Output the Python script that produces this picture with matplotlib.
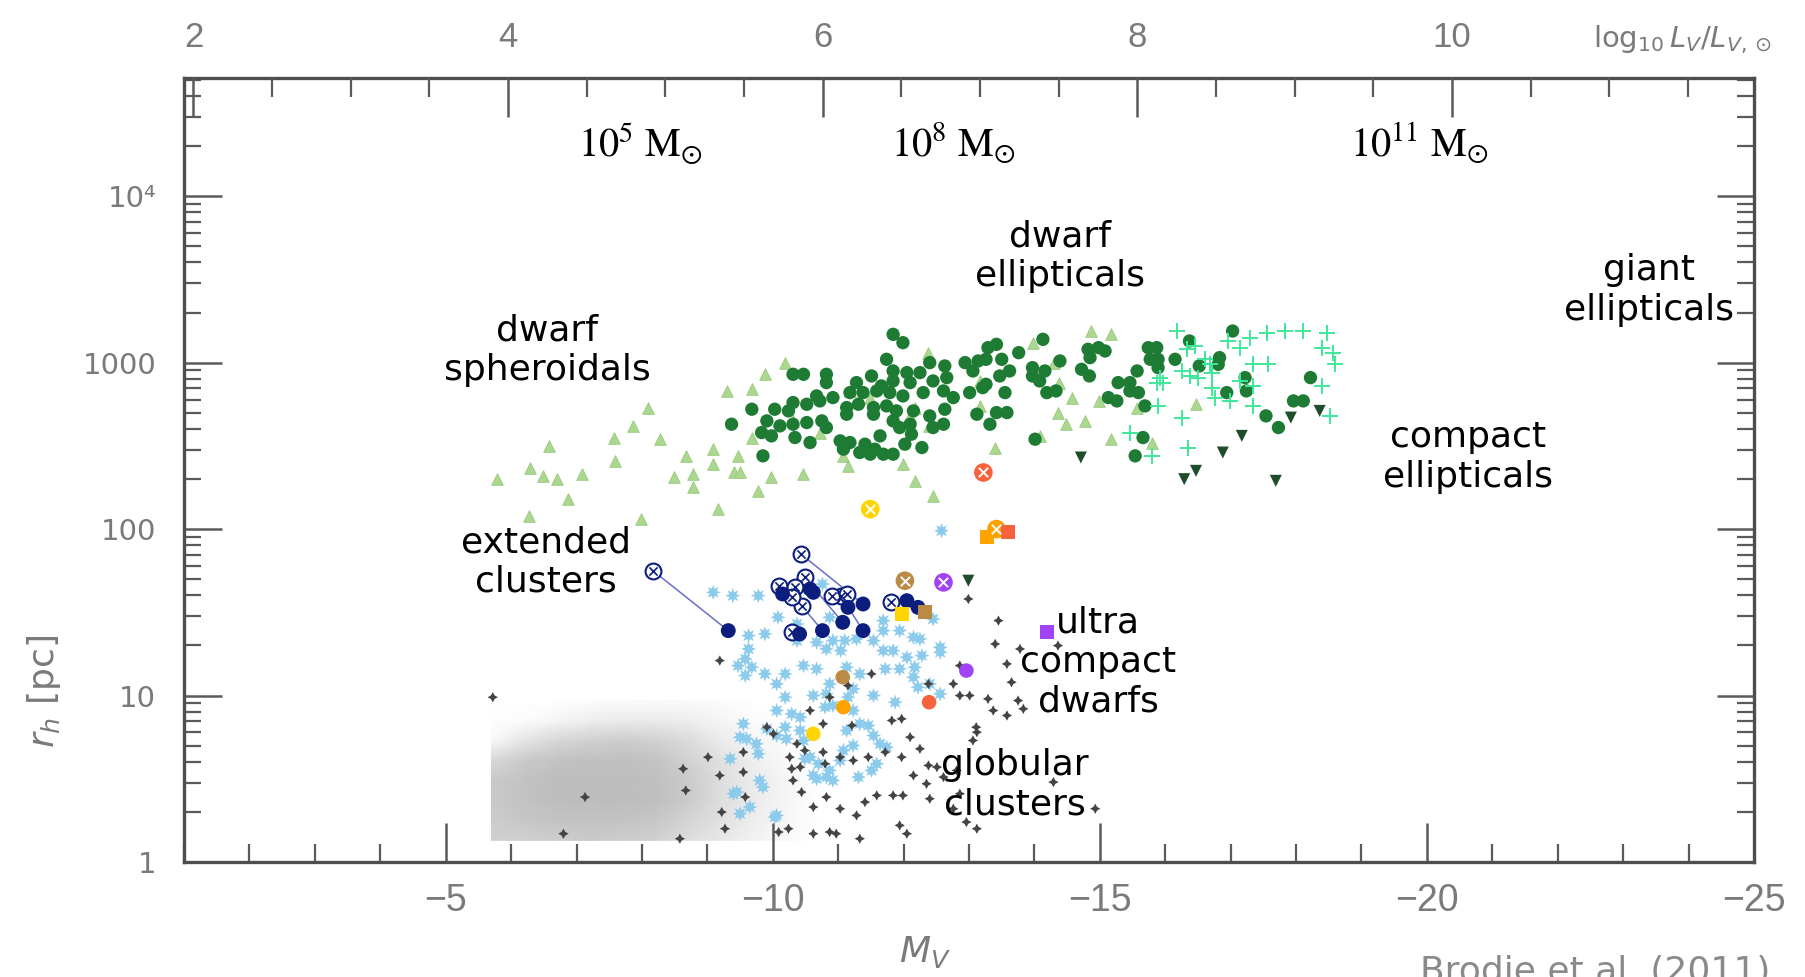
import numpy as np
import matplotlib
matplotlib.use("Agg")
import matplotlib.pyplot as plt
from matplotlib.ticker import MultipleLocator, LogLocator, NullFormatter
from matplotlib.colors import LinearSegmentedColormap

# ------------------------------------------------------------------ data
# gray cloud of (Local Group) globular clusters: density
cloud_mv = [-5.7, -6.2, -6.7, -7.2, -7.7, -8.2, -8.7, -9.2, -9.7, -10.2, -10.7]
cloud_logr = [0.13, 0.25, 0.37, 0.49, 0.61, 0.73, 0.85, 0.97]
cloud_density = [
    [0.70, 0.70, 0.75, 0.80, 0.75, 0.70, 0.50, 0.35, 0.20, 0.10, 0.00],
    [0.75, 0.85, 0.90, 0.90, 0.90, 0.85, 0.65, 0.45, 0.25, 0.12, 0.00],
    [0.80, 0.90, 1.00, 1.00, 1.00, 0.95, 0.80, 0.50, 0.30, 0.15, 0.00],
    [0.80, 0.90, 1.00, 1.00, 1.00, 0.95, 0.80, 0.50, 0.30, 0.15, 0.00],
    [0.60, 0.80, 0.90, 0.95, 0.95, 0.90, 0.70, 0.45, 0.25, 0.10, 0.00],
    [0.10, 0.40, 0.60, 0.70, 0.75, 0.70, 0.55, 0.30, 0.15, 0.05, 0.00],
    [0.00, 0.05, 0.15, 0.25, 0.30, 0.30, 0.25, 0.15, 0.05, 0.00, 0.00],
    [0.00, 0.00, 0.00, 0.03, 0.08, 0.08, 0.08, 0.05, 0.00, 0.00, 0.00],
]

# (M_V, log10 r_h [pc])
dsph = [(-10.19, 3.00), (-9.88, 2.93), (-9.30, 2.83), (-9.68, 2.84), (-8.10, 2.73), (-7.87, 2.62),
        (-7.57, 2.55), (-8.28, 2.54), (-6.58, 2.50), (-7.59, 2.41), (-6.29, 2.37), (-6.49, 2.32),
        (-6.70, 2.30), (-7.09, 2.33), (-5.79, 2.30), (-6.87, 2.18), (-6.28, 2.08), (-7.98, 2.06),
        (-8.49, 2.31), (-8.78, 2.33), (-8.78, 2.25), (-8.68, 2.44), (-9.08, 2.48), (-9.09, 2.39),
        (-9.47, 2.44), (-9.40, 2.34), (-9.50, 2.34), (-9.78, 2.23), (-9.98, 2.31), (-10.47, 2.33),
        (-9.17, 2.12), (-9.68, 2.55), (-11.15, 2.38), (-11.08, 2.44), (-11.99, 2.39), (-12.17, 2.29),
        (-12.45, 2.20), (-12.38, 3.06), (-14.87, 3.19), (-15.17, 3.17), (-13.98, 3.12), (-14.30, 3.00),
        (-14.38, 2.88), (-13.17, 2.89), (-14.57, 2.79), (-14.98, 2.77), (-14.36, 2.70), (-14.77, 2.65),
        (-14.48, 2.63), (-13.17, 2.74), (-12.17, 2.73), (-12.39, 2.62), (-12.10, 2.68), (-14.08, 2.56),
        (-13.39, 2.49), (-15.17, 2.54), (-15.79, 2.52), (-15.57, 2.73), (-16.47, 2.75), (-11.49, 2.79),
        (-10.72, 2.58), (-10.31, 2.65), (-11.18, 2.83)]

dwarf_ell = [(-11.84, 3.17), (-11.99, 3.12), (-11.74, 3.02), (-12.40, 3.00), (-10.31, 2.93), (-10.47, 2.93),
             (-10.82, 2.93), (-10.82, 2.88), (-11.51, 2.92), (-11.84, 2.95), (-12.05, 2.94), (-12.25, 2.94),
             (-11.28, 2.88), (-11.66, 2.86), (-11.84, 2.89), (-12.10, 2.88), (-12.45, 2.89), (-10.67, 2.80),
             (-10.92, 2.79), (-11.18, 2.82), (-11.38, 2.82), (-11.59, 2.83), (-11.79, 2.82), (-11.99, 2.80),
             (-12.30, 2.82), (-10.31, 2.76), (-10.52, 2.75), (-10.72, 2.77), (-9.68, 2.72), (-10.03, 2.72),
             (-10.24, 2.71), (-11.13, 2.73), (-11.31, 2.75), (-11.54, 2.73), (-11.74, 2.74), (-11.89, 2.71),
             (-12.15, 2.71), (-12.40, 2.68), (-9.37, 2.63), (-9.91, 2.65), (-10.11, 2.62), (-10.31, 2.63),
             (-10.52, 2.64), (-10.75, 2.65), (-11.13, 2.69), (-11.54, 2.69), (-11.84, 2.65), (-12.10, 2.63),
             (-12.45, 2.61), (-9.83, 2.58), (-9.98, 2.56), (-10.34, 2.55), (-10.57, 2.52), (-10.82, 2.61),
             (-11.03, 2.53), (-11.18, 2.52), (-11.41, 2.51), (-11.64, 2.56), (-11.94, 2.61), (-12.12, 2.57),
             (-12.28, 2.49), (-12.02, 2.51), (-11.84, 2.45), (-11.69, 2.45), (-11.49, 2.45), (-9.85, 2.44),
             (-11.08, 2.48), (-11.33, 2.46), (-11.56, 2.48),
             (-14.13, 3.14), (-13.29, 3.09), (-13.42, 3.11), (-13.76, 3.06), (-14.82, 3.08), (-14.98, 3.09),
             (-15.08, 3.07), (-14.85, 3.03), (-15.74, 3.09), (-15.87, 3.09), (-17.03, 3.19), (-16.37, 3.13),
             (-12.63, 2.98), (-12.94, 3.00), (-13.14, 3.01), (-13.26, 3.02), (-13.50, 3.02), (-13.06, 2.95),
             (-13.47, 2.92), (-13.62, 2.95), (-13.97, 2.97), (-14.16, 2.95), (-13.97, 2.92), (-14.08, 2.89),
             (-14.39, 3.01), (-14.72, 2.96), (-14.84, 2.92), (-15.77, 3.02), (-15.89, 3.02), (-16.15, 3.02),
             (-15.89, 2.97), (-15.57, 2.95), (-16.52, 2.98), (-16.83, 3.03), (-16.81, 2.99), (-15.28, 2.88),
             (-15.46, 2.88), (-15.46, 2.83), (-15.59, 2.82), (-14.19, 2.82), (-14.33, 2.83), (-17.22, 2.91),
             (-17.24, 2.83), (-16.94, 2.82), (-18.22, 2.91), (-17.96, 2.77), (-18.11, 2.77), (-17.54, 2.68),
             (-17.73, 2.61), (-15.13, 2.79), (-15.26, 2.77), (-15.69, 2.74), (-15.66, 2.55), (-15.54, 2.44),
             (-14.01, 2.54), (-13.12, 2.69), (-13.42, 2.70), (-13.58, 2.70), (-13.32, 2.63), (-12.66, 2.91),
             (-12.61, 2.83), (-12.76, 2.79), (-12.63, 2.72), (-12.61, 2.63), (-13.01, 2.82), (-13.21, 2.85),
             (-13.26, 2.87), (-13.55, 2.82)]

green_plus = [(-16.18, 3.19), (-17.55, 3.18), (-17.83, 3.19), (-18.11, 3.19), (-18.47, 3.18), (-16.96, 3.13),
              (-17.29, 3.15), (-17.14, 3.09), (-16.45, 3.10), (-16.33, 3.08), (-18.39, 3.09), (-18.57, 3.06),
              (-18.59, 2.99), (-16.61, 3.02), (-16.68, 2.99), (-16.25, 2.95), (-16.38, 2.92), (-16.50, 2.91),
              (-16.71, 2.94), (-15.92, 2.91), (-15.97, 2.88), (-15.87, 2.88), (-17.34, 2.99), (-17.57, 2.99),
              (-17.14, 2.89), (-17.34, 2.86), (-16.71, 2.85), (-16.76, 2.79), (-16.99, 2.77), (-17.34, 2.74),
              (-18.39, 2.86), (-15.89, 2.74), (-16.25, 2.67), (-18.52, 2.68), (-15.46, 2.58), (-16.35, 2.49),
              (-15.79, 2.44)]

compact_ell = [(-18.36, 2.71), (-17.92, 2.67), (-17.17, 2.56), (-16.88, 2.46), (-17.69, 2.29),
               (-16.47, 2.35), (-16.29, 2.30), (-14.71, 2.43), (-12.99, 1.69)]

# extended clusters: pairs of measurements joined by a line (open -> filled)
ec_open_paired = [(-8.17, 1.75), (-10.43, 1.85), (-10.44, 1.54), (-11.04, 1.60), (-10.49, 1.71)]
ec_filled_paired = [(-9.32, 1.39), (-11.38, 1.55), (-10.76, 1.39), (-11.38, 1.39), (-11.07, 1.44)]
ec_open = [(-10.09, 1.66), (-10.34, 1.65), (-10.29, 1.59), (-10.90, 1.60), (-11.13, 1.61), (-11.80, 1.56),
           (-10.29, 1.38)]
ec_filled = [(-10.15, 1.61), (-10.57, 1.64), (-10.62, 1.62), (-11.15, 1.53), (-10.41, 1.37), (-12.05, 1.57),
             (-12.22, 1.53)]

# individual coloured objects (UCDs etc.)
special_colors = ['#ffd400', '#f5623c', '#ffa200', '#bb8a45', '#a142f4']
special_crossed = [(-11.49, 2.12), (-13.22, 2.34), (-13.42, 2.00), (-12.02, 1.69), (-12.61, 1.68)]
square_colors = ['#ffa200', '#f5623c', '#ffd400', '#bb8a45', '#a142f4']
special_squares = [(-13.27, 1.95), (-13.60, 1.98), (-11.97, 1.49), (-12.33, 1.50), (-14.19, 1.38)]
dot_colors = ['#a142f4', '#bb8a45', '#ffa200', '#f5623c', '#ffd400']
special_dots = [(-12.96, 1.15), (-11.07, 1.11), (-11.08, 0.93), (-12.39, 0.96), (-10.62, 0.77)]

blue_stars = [(-9.09, 1.62), (-9.39, 1.60), (-9.78, 1.60), (-10.08, 1.47), (-9.63, 1.36), (-9.88, 1.37),
              (-10.37, 1.43), (-10.76, 1.67), (-10.87, 1.47), (-10.37, 1.33), (-10.67, 1.32), (-10.92, 1.33),
              (-11.10, 1.33), (-11.28, 1.34), (-11.54, 1.33), (-11.69, 1.45), (-11.69, 1.39), (-11.94, 1.39),
              (-12.15, 1.35), (-12.25, 1.34), (-12.45, 1.46), (-9.63, 1.28), (-9.58, 1.22), (-9.47, 1.18),
              (-9.68, 1.17), (-9.58, 1.12), (-9.88, 1.13), (-10.06, 1.07), (-10.19, 1.13), (-10.47, 1.18),
              (-10.67, 1.16), (-10.82, 1.28), (-11.04, 1.27), (-11.69, 1.27), (-11.84, 1.27), (-12.05, 1.23),
              (-12.28, 1.24), (-12.56, 1.29), (-12.56, 1.26), (-12.17, 1.17), (-11.72, 1.16), (-11.94, 1.16),
              (-12.15, 1.11), (-12.22, 1.05), (-12.40, 1.07), (-12.56, 1.01), (-11.33, 1.13), (-11.13, 1.17),
              (-10.87, 1.07), (-10.82, 1.01), (-10.62, 1.00), (-10.19, 0.99), (-10.06, 0.91), (-10.29, 0.89),
              (-10.42, 0.87), (-10.19, 0.81), (-9.91, 0.80), (-9.55, 0.83), (-10.06, 0.76), (-10.21, 0.74),
              (-10.47, 0.73), (-10.80, 0.93), (-10.92, 0.94), (-11.15, 0.99), (-11.23, 1.04), (-11.54, 1.00),
              (-11.87, 0.96), (-11.23, 0.91), (-11.33, 0.83), (-11.46, 0.82), (-11.54, 0.76), (-11.64, 0.71),
              (-11.13, 0.79), (-11.08, 0.67), (-11.03, 0.61), (-10.87, 0.55), (-10.70, 0.59), (-10.49, 0.62),
              (-10.62, 0.52), (-10.92, 0.49), (-11.59, 0.59), (-9.75, 0.71), (-9.60, 0.74), (-9.78, 0.65),
              (-10.57, 0.63), (-10.42, 0.79), (-10.67, 0.50), (-9.80, 0.49), (-9.65, 0.33), (-10.03, 0.27),
              (-9.45, 0.42), (-11.23, 0.70), (-11.74, 0.69), (-11.51, 0.55), (-11.31, 0.51), (-10.82, 0.51),
              (-9.35, 0.62), (-9.40, 0.41), (-9.50, 0.29), (-9.85, 0.45), (-10.06, 0.28), (-9.50, 0.75),
              (-12.58, 1.99)]

black_plus = [(-12.99, 1.58), (-13.45, 1.45), (-13.40, 1.31), (-13.78, 1.28), (-13.58, 1.19), (-14.36, 1.30),
              (-13.65, 1.08), (-13.29, 0.98), (-13.75, 0.97), (-13.37, 0.91), (-13.58, 0.88), (-13.83, 0.92),
              (-12.86, 1.00), (-13.01, 1.00), (-12.76, 1.07), (-12.38, 1.07), (-12.86, 1.18), (-13.11, 0.81),
              (-13.12, 0.78), (-13.06, 0.73), (-12.81, 0.55), (-11.97, 0.86), (-11.82, 0.85), (-12.10, 0.75),
              (-12.25, 0.68), (-11.97, 0.63), (-9.19, 1.21), (-11.51, 1.13), (-11.15, 1.06), (-11.21, 0.82),
              (-10.87, 0.99), (-10.57, 0.91), (-10.01, 0.77), (-10.37, 0.71), (-10.49, 0.67), (-10.77, 0.66),
              (-11.03, 0.63), (-11.23, 0.61), (-11.46, 0.63), (-11.72, 0.66), (-8.63, 0.56), (-9.55, 0.66),
              (-9.01, 0.63), (-12.38, 0.58), (-12.51, 0.57), (-12.15, 0.52), (-12.61, 0.51), (-10.77, 0.83),
              (-9.91, 0.81), (-10.26, 0.63), (-10.42, 0.57), (-10.80, 0.59), (-10.82, 0.39), (-11.03, 0.32),
              (-11.28, 0.28), (-11.41, 0.36), (-11.59, 0.40), (-11.84, 0.40), (-11.99, 0.40), (-11.94, 0.22),
              (-12.05, 0.17), (-11.33, 0.14), (-10.62, 0.17), (-10.87, 0.18), (-10.97, 0.17), (-10.09, 0.18),
              (-10.24, 0.20), (-10.31, 0.49), (-10.44, 0.42), (-10.62, 0.33), (-12.35, 0.47), (-12.40, 0.38),
              (-12.86, 0.41), (-12.76, 0.32), (-12.96, 0.24), (-13.12, 0.20), (-14.29, 0.48), (-14.93, 0.32),
              (-9.22, 0.30), (-9.27, 0.20), (-9.19, 0.52), (-9.58, 0.39), (-9.55, 0.54), (-5.72, 0.99),
              (-7.13, 0.39), (-8.67, 0.43), (-6.80, 0.17), (-8.58, 0.14), (-10.29, 0.56)]

xtick_vals = [-5, -10, -15, -20, -25]
xtick_labels = ['\u22125', '\u221210', '\u221215', '\u221220', '\u221225']
ytick_vals = [1, 10, 100, 1000, 10000]
ytick_labels = ['1', '10', '100', '1000', '10\u2074']
top_vals = [2, 4, 6, 8, 10]
top_labels = ['2', '4', '6', '8', '10']

annotations = [("dwarf\nellipticals", 1060, 256), ("giant\nellipticals", 1649, 290),
               ("dwarf\nspheroidals", 547, 350), ("compact\nellipticals", 1468, 457),
               ("extended\nclusters", 546, 562), ("ultra\ncompact\ndwarfs", 1098, 662),
               ("globular\nclusters", 1015, 785)]
mass_labels = [(r'$10^{5}\ \mathrm{M}_{\odot}$', 640, 143), (r'$10^{8}\ \mathrm{M}_{\odot}$', 953, 143),
               (r'$10^{11}\ \mathrm{M}_{\odot}$', 1420, 143)]


def split(pairs):
    a = np.array(pairs, dtype=float)
    return a[:, 0], 10 ** a[:, 1]


# ------------------------------------------------------------------ figure
W, H = 1806, 977
fig = plt.figure(figsize=(W / 100, H / 100), dpi=100)
fig.patch.set_facecolor('white')
ax = fig.add_axes([184 / W, 1 - 862 / H, (1754 - 184) / W, (862 - 78) / H])
ax.set_yscale('log')
ax.set_xlim(-1, -25)
ax.set_ylim(1, 10 ** 4.71)

# gray cloud (opaque white -> gray so no seams appear)
cmap = LinearSegmentedColormap.from_list('cloud', ['#ffffff', '#bdbdbd'])
CX, CY = np.meshgrid(np.array(cloud_mv), 10 ** np.array(cloud_logr))
ax.pcolormesh(CX, CY, np.array(cloud_density), shading='gouraud', cmap=cmap, vmin=0, vmax=1,
              antialiased=False, zorder=1)

# dwarf spheroidals
x, y = split(dsph)
ax.scatter(x, y, marker='^', s=70, c='#abd790', edgecolors='#97c97b', linewidths=0.6, zorder=3)
# dwarf ellipticals
x, y = split(dwarf_ell)
ax.scatter(x, y, marker='o', s=92, c='#1e7b34', edgecolors='none', zorder=4)
# green pluses
x, y = split(green_plus)
ax.scatter(x, y, marker='+', s=120, c='#3ee89a', linewidths=1.4, zorder=5)
# compact ellipticals
x, y = split(compact_ell)
ax.scatter(x, y, marker='v', s=75, c='#1f4d2b', edgecolors='none', zorder=5)

# blue stars and black pluses
x, y = split(blue_stars)
ax.scatter(x, y, marker=(8, 1, 0), s=120, c='#8ccbeb', edgecolors='none', zorder=3)
x, y = split(black_plus)
ax.scatter(x, y, marker=(4, 1, 0), s=55, c='#444444', edgecolors='none', zorder=4)

# extended clusters
navy = '#0b1d7d'
xo, yo = split(ec_open_paired)
xf, yf = split(ec_filled_paired)
for i in range(len(xo)):
    ax.plot([xo[i], xf[i]], [yo[i], yf[i]], color='#6a6fc8', lw=1.1, zorder=5)
for pts in (ec_open_paired, ec_open):
    x, y = split(pts)
    ax.scatter(x, y, marker='o', s=130, facecolors='white', edgecolors=navy, linewidths=1.5, zorder=6)
    ax.scatter(x, y, marker='x', s=35, c=navy, linewidths=1.2, zorder=7)
for pts in (ec_filled_paired, ec_filled):
    x, y = split(pts)
    ax.scatter(x, y, marker='o', s=115, c=navy, edgecolors='none', zorder=7)

# coloured special objects
x, y = split(special_crossed)
ax.scatter(x, y, marker='o', s=180, c=special_colors, edgecolors='none', zorder=8)
ax.scatter(x, y, marker='x', s=45, c='white', linewidths=1.4, zorder=9)
x, y = split(special_squares)
ax.scatter(x, y, marker='s', s=100, c=square_colors, edgecolors='none', zorder=8)
x, y = split(special_dots)
ax.scatter(x, y, marker='o', s=110, c=dot_colors, edgecolors='none', zorder=8)

# ------------------------------------------------------------------ axes styling
spine_c = '#4e4e4e'
tick_c = '#5a5a5a'
lab_c = '#7a7a7a'
for s in ax.spines.values():
    s.set_color(spine_c)
    s.set_linewidth(2.4)
    s.set_zorder(10)

ax.set_xticks(xtick_vals, labels=xtick_labels, fontfamily='Liberation Sans', fontsize=27, color=lab_c)
ax.xaxis.set_minor_locator(MultipleLocator(1))
ax.tick_params(axis='x', which='major', direction='in', length=28, width=1.8, color=tick_c, pad=15)
ax.tick_params(axis='x', which='minor', direction='in', length=13, width=1.6, color=tick_c)

ax.set_yticks(ytick_vals, labels=ytick_labels, fontfamily='DejaVu Sans', fontsize=21, color=lab_c)
ax.yaxis.set_minor_locator(LogLocator(base=10, subs=np.arange(2, 10), numticks=30))
ax.yaxis.set_minor_formatter(NullFormatter())
ax.tick_params(axis='y', which='major', direction='in', length=27, width=1.8, color=tick_c, pad=20,
               left=True, right=True)
ax.tick_params(axis='y', which='minor', direction='in', length=12, width=1.6, color=tick_c,
               left=True, right=True)

ax2 = ax.twiny()
ax2.set_xlim(1.94, 11.92)
for s in ax2.spines.values():
    s.set_visible(False)
ax2.set_xticks(top_vals, labels=top_labels, fontfamily='Liberation Sans', fontsize=25, color=lab_c)
ax2.xaxis.set_minor_locator(MultipleLocator(0.5))
ax2.tick_params(axis='x', which='major', direction='in', length=28, width=1.8, color=tick_c, pad=17)
ax2.tick_params(axis='x', which='minor', direction='in', length=14, width=1.6, color=tick_c)

# axis titles
fig.text(44 / W, 1 - 691 / H, r'$r_h$ [pc]', rotation=90, ha='center', va='center', fontsize=26, color=lab_c)
fig.text(925 / W, 1 - 952 / H, r'$M_V$', ha='center', va='center', fontsize=26, color=lab_c)
fig.text(1682 / W, 1 - 40 / H, r'$\log_{10}L_V/L_{V,\odot}$', ha='center', va='center', fontsize=21,
         color=lab_c)

# annotations
for txt, px, py in annotations:
    fig.text(px / W, 1 - py / H, txt, ha='center', va='center', fontsize=26, color='black',
             family='DejaVu Sans', linespacing=1.2, multialignment='center')
for txt, px, py in mass_labels:
    fig.text(px / W, 1 - py / H, txt, ha='center', va='center', fontsize=29, color='black',
             math_fontfamily='stix')

fig.text(1595 / W, 1 - 955 / H, 'Brodie et al. (2011)', ha='center', va='top', fontsize=26, color='#8a8a8a')

fig.savefig('out.png', dpi=100, facecolor='white')
